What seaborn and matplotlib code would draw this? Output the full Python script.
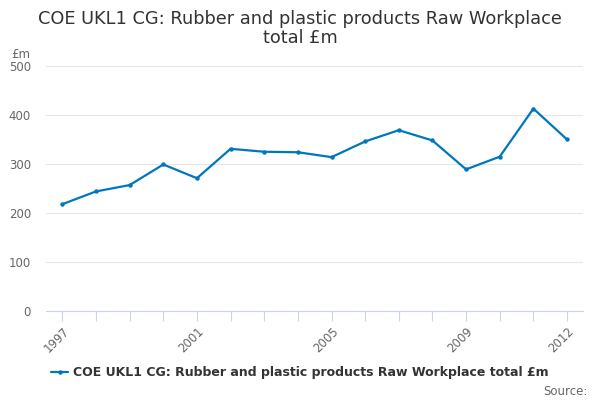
"""
COE UKL1 CG: Rubber and plastic products - line chart
"""
import pandas as pd
import matplotlib
matplotlib.use('Agg')
import matplotlib.pyplot as plt
import seaborn as sns

# Data
years = [1997, 1998, 1999, 2000, 2001, 2002, 2003, 2004,
         2005, 2006, 2007, 2008, 2009, 2010, 2011, 2012]
values = [218, 244, 257, 299, 271, 331, 325, 324,
          314, 346, 369, 348, 289, 315, 413, 350]
shown_years = [1997, 2001, 2005, 2009, 2012]
y_ticks = [0, 100, 200, 300, 400, 500]

title = 'COE UKL1 CG: Rubber and plastic products Raw Workplace\ntotal £m'
series_name = 'COE UKL1 CG: Rubber and plastic products Raw Workplace total £m'

df = pd.DataFrame({'idx': range(len(years)), 'year': years, 'value': values})

sns.set_style('white')
plt.rcParams['font.family'] = ['DejaVu Sans']

fig = plt.figure(figsize=(6, 4), dpi=100)
ax = fig.add_axes([0.077, 0.2225, 0.895, 0.6125])

line_color = '#0077bd'
sns.lineplot(data=df, x='idx', y='value', ax=ax, color=line_color,
             linewidth=1.6, marker='o', markersize=3.2, markeredgewidth=0,
             label=series_name, legend=False)

ax.set_xlim(-0.48, len(years) - 1 + 0.48)
ax.set_ylim(0, 500)
ax.set_yticks(y_ticks)
ax.set_yticklabels([str(v) for v in y_ticks], color='#666666', fontsize=8.5)
ax.yaxis.grid(True, color='#e6e6e6', linewidth=0.8)
ax.xaxis.grid(False)
ax.tick_params(axis='y', length=0, pad=11)

ax.set_xticks(df['idx'])
ax.set_xticklabels([str(y) if y in shown_years else '' for y in years],
                   rotation=45, ha='right', rotation_mode='anchor',
                   color='#666666', fontsize=8.5)
ax.tick_params(axis='x', length=7, width=0.8, color='#ccd6eb',
               direction='out', bottom=True, pad=3)

for s in ['left', 'right', 'top']:
    ax.spines[s].set_visible(False)
ax.spines['bottom'].set_color('#ccd6eb')
ax.spines['bottom'].set_linewidth(0.8)
ax.set_xlabel('')
ax.set_ylabel('')

fig.text(0.5, 0.975, title, ha='center', va='top', fontsize=12.8,
         color='#333333', linespacing=1.1)
fig.text(0.018, 0.865, '£m', ha='left', va='center', fontsize=8.5,
         color='#666666')

# legend below the plot
handles, labels = ax.get_legend_handles_labels()
leg = fig.legend(handles, labels, loc='center', bbox_to_anchor=(0.5, 0.068),
                 frameon=False, fontsize=9, handlelength=1.4,
                 handletextpad=0.4)
for t in leg.get_texts():
    t.set_fontweight('bold')
    t.set_color('#333333')

fig.text(0.98, 0.022, 'Source:', ha='right', va='center', fontsize=8.5,
         color='#666666')

fig.savefig('out.png', dpi=100)
